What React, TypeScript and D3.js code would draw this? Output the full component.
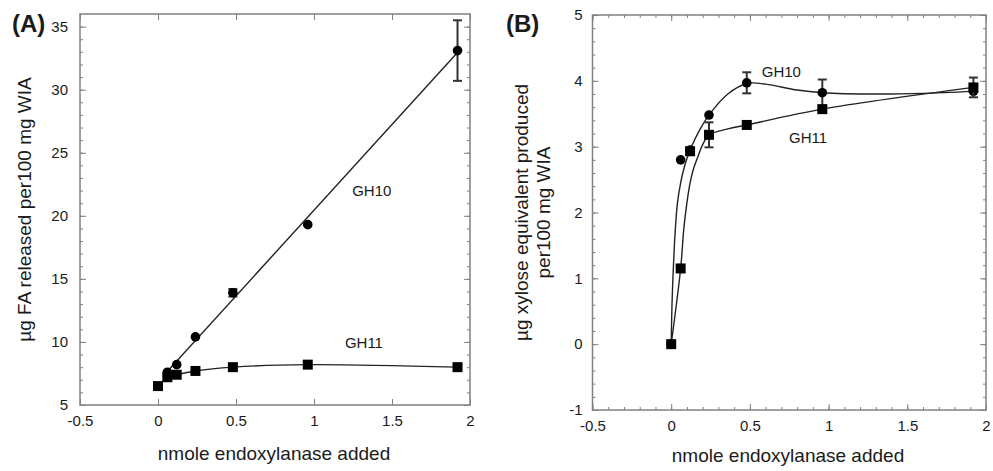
import { useRef, useEffect } from "react";
import * as d3 from "d3";

// enzyme dose (nmole endoxylanase added)
const doses = [0, 0.06, 0.12, 0.24, 0.48, 0.96, 1.92];

// (A) µg FA released per 100 mg WIA
const faGH10Dose = [0.06, 0.12, 0.24, 0.48, 0.96, 1.92];
const faGH10 = [7.6, 8.2, 10.4, 13.9, 19.3, 33.1];
const faGH10Err = [0, 0, 0, 0.3, 0, 2.4];
const faGH11 = [6.5, 7.2, 7.4, 7.7, 8.0, 8.2, 8.0];

// (B) µg xylose equivalent per 100 mg WIA
const xyGH10 = [0, 2.8, 2.95, 3.48, 3.97, 3.82, 3.84];
const xyGH10Err = [0, 0, 0, 0, 0.16, 0.2, 0];
const xyGH11 = [0, 1.15, 2.93, 3.18, 3.33, 3.57, 3.9];
const xyGH11Err = [0, 0, 0, 0.19, 0, 0, 0.15];

// fitted curves in (B)
const xyGH10FitDose = [0, 0.005, 0.013, 0.025, 0.04, 0.06, 0.08, 0.1, 0.12, 0.18, 0.24, 0.36, 0.48, 0.6, 0.8, 0.96, 1.3, 1.6, 1.92];
const xyGH10Fit = [0, 0.6, 1.12, 1.7, 2.15, 2.45, 2.66, 2.82, 2.95, 3.25, 3.48, 3.8, 3.96, 3.95, 3.86, 3.82, 3.8, 3.81, 3.84];
const xyGH11FitDose = [0, 0.06, 0.08, 0.1, 0.12, 0.14, 0.17, 0.2, 0.24, 0.36, 0.48, 0.96, 1.92];
const xyGH11Fit = [0, 1.15, 1.75, 2.15, 2.45, 2.65, 2.85, 3.03, 3.18, 3.27, 3.33, 3.57, 3.9];

const xTicks = [-0.5, 0, 0.5, 1, 1.5, 2];
const aYTicks = [5, 10, 15, 20, 25, 30, 35];
const bYTicks = [-1, 0, 1, 2, 3, 4, 5];

const FONT = "'Liberation Sans', Arial, sans-serif";
const INK = "#1a1a1a";
const FRAME = "#808080";

type Pt = [number, number];
const zip = (xs: number[], ys: number[]): Pt[] => xs.map((x, i) => [x, ys[i]]);
const plain = (d: d3.NumberValue) => String(+d); // hyphen minus like the original

function drawFrame(
  g: d3.Selection<SVGGElement, unknown, null, undefined>,
  x: d3.ScaleLinear<number, number>,
  y: d3.ScaleLinear<number, number>,
  yTicks: number[],
  xMinor: number[],
  yMinor: number[],
  yPad: number
) {
  const [x0, x1] = x.range();
  const [y0, y1] = y.range();
  const style = (s: d3.Selection<SVGGElement, unknown, null, undefined>) => {
    s.select(".domain").remove();
    s.selectAll("line").attr("stroke", FRAME).attr("stroke-width", 1);
    s.selectAll("text").attr("fill", INK).attr("font-size", 15).attr("font-family", FONT);
  };
  // major ticks, inside on all four sides
  g.append("g").attr("transform", `translate(0,${y0})`)
    .call(d3.axisBottom(x).tickValues(xTicks).tickSize(-6).tickPadding(10).tickFormat(plain))
    .call(style);
  g.append("g").attr("transform", `translate(0,${y1})`)
    .call(d3.axisTop(x).tickValues(xTicks).tickSize(-6).tickFormat(() => ""))
    .call(style);
  g.append("g").attr("transform", `translate(${x0},0)`)
    .call(d3.axisLeft(y).tickValues(yTicks).tickSize(-6).tickPadding(yPad).tickFormat(plain))
    .call(style);
  g.append("g").attr("transform", `translate(${x1},0)`)
    .call(d3.axisRight(y).tickValues(yTicks).tickSize(-6).tickFormat(() => ""))
    .call(style);
  // minor ticks
  if (xMinor.length) {
    g.append("g").attr("transform", `translate(0,${y0})`)
      .call(d3.axisBottom(x).tickValues(xMinor).tickSize(-3).tickFormat(() => "")).call(style);
    g.append("g").attr("transform", `translate(0,${y1})`)
      .call(d3.axisTop(x).tickValues(xMinor).tickSize(-3).tickFormat(() => "")).call(style);
  }
  g.append("g").attr("transform", `translate(${x0},0)`)
    .call(d3.axisLeft(y).tickValues(yMinor).tickSize(-3).tickFormat(() => "")).call(style);
  g.append("g").attr("transform", `translate(${x1},0)`)
    .call(d3.axisRight(y).tickValues(yMinor).tickSize(-3).tickFormat(() => "")).call(style);

  g.append("rect")
    .attr("x", x0).attr("y", y1)
    .attr("width", x1 - x0).attr("height", y0 - y1)
    .attr("fill", "none").attr("stroke", FRAME).attr("stroke-width", 1.5);
}

function drawPoints(
  g: d3.Selection<SVGGElement, unknown, null, undefined>,
  x: d3.ScaleLinear<number, number>,
  y: d3.ScaleLinear<number, number>,
  pts: Pt[],
  errs: number[],
  shape: "circle" | "square"
) {
  const bars = pts.map((p, i) => ({ p, e: errs[i] })).filter((d) => d.e > 0);
  const eb = g.append("g").attr("stroke", "#333").attr("stroke-width", 2);
  bars.forEach(({ p, e }) => {
    const cx = x(p[0]);
    eb.append("line").attr("x1", cx).attr("x2", cx).attr("y1", y(p[1] - e)).attr("y2", y(p[1] + e));
    [p[1] - e, p[1] + e].forEach((v) =>
      eb.append("line").attr("x1", cx - 4.5).attr("x2", cx + 4.5).attr("y1", y(v)).attr("y2", y(v))
    );
  });
  if (shape === "circle") {
    g.append("g").selectAll("circle").data(pts).join("circle")
      .attr("cx", (d) => x(d[0])).attr("cy", (d) => y(d[1]))
      .attr("r", 4.8).attr("fill", "#000");
  } else {
    g.append("g").selectAll("rect").data(pts).join("rect")
      .attr("x", (d) => x(d[0]) - 5).attr("y", (d) => y(d[1]) - 5)
      .attr("width", 10).attr("height", 10).attr("fill", "#000");
  }
}

export default function App() {
  const svgRef = useRef<SVGSVGElement>(null);

  useEffect(() => {
    const svg = svgRef.current;
    if (!svg) return;
    const sel = d3.select(svg);
    sel.selectAll("*").remove();
    const root = sel.append("g") as d3.Selection<SVGGElement, unknown, null, undefined>;

    const label = (px: number, py: number, t: string, size: number, weight = "normal", anchor = "middle") =>
      root.append("text").attr("x", px).attr("y", py).attr("text-anchor", anchor)
        .attr("font-family", FONT).attr("font-size", size).attr("font-weight", weight)
        .attr("fill", INK).text(t);

    // ---------- Panel A ----------
    {
      const x = d3.scaleLinear().domain([-0.5, 2]).range([80, 470]);
      const y = d3.scaleLinear().domain([5, 36]).range([405, 14]);
      const g = root.append("g");
      drawFrame(g, x, y, aYTicks, [], d3.range(5, 36, 1), 12);

      // least-squares line for GH10
      const mx = d3.mean(faGH10Dose)!;
      const my = d3.mean(faGH10)!;
      const sxy = d3.sum(faGH10Dose, (d, i) => (d - mx) * (faGH10[i] - my));
      const sxx = d3.sum(faGH10Dose, (d) => (d - mx) ** 2);
      const slope = sxy / sxx;
      const icpt = my - slope * mx;
      const ext = d3.extent(faGH10Dose) as [number, number];
      g.append("line")
        .attr("x1", x(ext[0] - 0.03)).attr("y1", y(icpt + slope * (ext[0] - 0.03)))
        .attr("x2", x(ext[1])).attr("y2", y(icpt + slope * ext[1]))
        .attr("stroke", "#222").attr("stroke-width", 1.4);

      const line = d3.line<Pt>().x((d) => x(d[0])).y((d) => y(d[1])).curve(d3.curveCatmullRom.alpha(0.5));
      g.append("path").datum(zip(doses, faGH11)).attr("d", line)
        .attr("fill", "none").attr("stroke", "#222").attr("stroke-width", 1.4);

      drawPoints(g, x, y, zip(faGH10Dose, faGH10), faGH10Err, "circle");
      drawPoints(g, x, y, zip(doses, faGH11), doses.map(() => 0), "square");

      label(x(1.37), y(21.6), "GH10", 15);
      label(x(1.32), y(9.5), "GH11", 15);
      label(274, 460, "nmole endoxylanase added", 19);
      root.append("text")
        .attr("transform", `translate(31,${(14 + 405) / 2}) rotate(-90)`)
        .attr("text-anchor", "middle").attr("font-family", FONT).attr("font-size", 19)
        .attr("fill", INK).text("µg FA released per100 mg WIA");
      label(12, 32, "(A)", 24, "bold", "start");
    }

    // ---------- Panel B ----------
    {
      const x = d3.scaleLinear().domain([-0.5, 2]).range([592.5, 986]);
      const y = d3.scaleLinear().domain([-1, 5]).range([410, 15]);
      const g = root.append("g");
      drawFrame(g, x, y, bYTicks, d3.range(-0.5, 2.001, 0.1), d3.range(-1, 5.001, 0.2), 10);

      const line = d3.line<Pt>().x((d) => x(d[0])).y((d) => y(d[1])).curve(d3.curveCatmullRom.alpha(0.5));
      g.append("path").datum(zip(xyGH10FitDose, xyGH10Fit)).attr("d", line)
        .attr("fill", "none").attr("stroke", "#222").attr("stroke-width", 1.4);
      g.append("path").datum(zip(xyGH11FitDose, xyGH11Fit)).attr("d", line)
        .attr("fill", "none").attr("stroke", "#222").attr("stroke-width", 1.4);

      drawPoints(g, x, y, zip(doses, xyGH10), xyGH10Err, "circle");
      drawPoints(g, x, y, zip(doses, xyGH11), xyGH11Err, "square");

      label(x(0.7), y(4.06), "GH10", 15);
      label(x(0.87), y(3.06), "GH11", 15);
      label(788, 462, "nmole endoxylanase added", 19);
      const yt = root.append("text")
        .attr("transform", `translate(0,${(15 + 410) / 2}) rotate(-90)`)
        .attr("text-anchor", "middle").attr("font-family", FONT).attr("font-size", 19).attr("fill", INK);
      yt.append("tspan").attr("x", 0).attr("y", 528).text("µg xylose equivalent produced");
      yt.append("tspan").attr("x", 0).attr("y", 550).text("per100 mg WIA");
      label(506, 32, "(B)", 24, "bold", "start");
    }
  }, []);

  return (
    <svg
      ref={svgRef}
      width={993}
      height={471}
      style={{ position: "absolute", left: 0, top: 0, background: "#fff" }}
    />
  );
}
